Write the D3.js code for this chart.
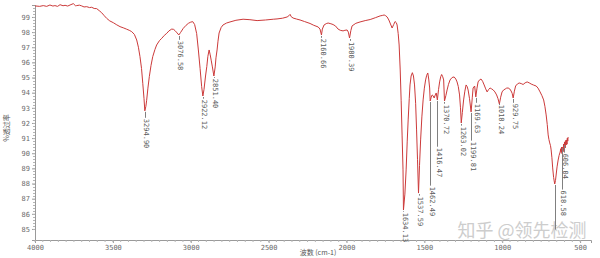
<!DOCTYPE html>
<html>
<head>
<meta charset="utf-8">
<script src="https://cdn.jsdelivr.net/npm/d3@7"></script>
<style>
  body { margin: 0; background: #fff; }
  svg { display: block; }
</style>
</head>
<body>
<script>
// IR spectrum (wavenumber cm-1 / transmittance %)
var wavenumber = [
  4000, 3970, 3947, 3925, 3904, 3885, 3872, 3855, 3839, 3820, 3807, 3790, 3775, 3754, 3740, 3732, 3715, 3700,
  3685, 3668, 3650, 3636, 3620, 3604, 3588, 3572, 3555, 3540, 3520, 3497, 3475, 3454, 3430, 3411, 3395, 3379,
  3362, 3347, 3336, 3326, 3316, 3308, 3300, 3294.9, 3288, 3283, 3275, 3266, 3255, 3244, 3230, 3219, 3200, 3186,
  3170, 3154, 3140, 3122, 3110, 3101, 3088, 3076.58, 3065, 3048, 3030, 3015, 3000, 2987, 2975, 2962, 2951, 2940,
  2930, 2922.12, 2915, 2905, 2897, 2890, 2882, 2875, 2868, 2861, 2851.4, 2843, 2838, 2831, 2825, 2818, 2805, 2793,
  2770, 2748, 2710, 2664, 2620, 2574, 2520, 2470, 2446, 2410, 2381, 2370, 2362, 2355, 2343, 2320, 2298, 2270,
  2234, 2210, 2182, 2170, 2160.66, 2155, 2144, 2130, 2118, 2100, 2086, 2070, 2054, 2040, 2022, 2010, 1996, 1988,
  1980.39, 1972, 1964, 1940, 1913, 1880, 1848, 1815, 1784, 1770, 1758, 1748, 1739, 1728, 1720, 1707, 1697, 1688,
  1680, 1675, 1668, 1662, 1655, 1649, 1643, 1637, 1634.13, 1625, 1617, 1610, 1604, 1597, 1592, 1585, 1577, 1570,
  1563, 1556, 1550, 1544, 1537.59, 1531, 1524, 1516, 1508, 1500, 1492, 1485, 1478, 1472, 1466, 1462.49, 1456, 1450,
  1444, 1437, 1430, 1424, 1416.47, 1409, 1402, 1395, 1389, 1382, 1376, 1370.72, 1362, 1354, 1345, 1335, 1322, 1309,
  1298, 1290, 1282, 1274, 1268, 1263.02, 1256, 1248, 1240, 1232, 1225, 1219, 1210, 1199.81, 1192, 1187, 1177, 1169.63,
  1162, 1155, 1145, 1136, 1126, 1116, 1106, 1097, 1088, 1078, 1068, 1058, 1047, 1036, 1027, 1018.24, 1010, 1001,
  991, 981, 972, 962, 952, 943, 936, 929.75, 922, 914, 902, 891, 878, 866, 853, 840, 827, 814, 798, 782, 770, 757,
  745, 734, 726, 718, 711, 705, 700, 695, 690, 686, 681, 676, 670, 663, 658, 654, 648, 641, 635, 628, 624, 621,
  618.58, 615, 612, 609, 606.04, 603, 600, 596, 592, 589, 587, 584, 582, 579, 577
];
var transmittance = [
  99.73, 99.70, 99.75, 99.70, 99.79, 99.72, 99.75, 99.70, 99.81, 99.74, 99.77, 99.72, 99.79, 99.88, 99.74, 99.75, 99.78, 99.73,
  99.66, 99.68, 99.62, 99.64, 99.56, 99.55, 99.42, 99.28, 99.08, 98.91, 98.74, 98.62, 98.48, 98.36, 98.27, 98.19, 98.12, 98.03,
  97.85, 97.48, 97.00, 96.38, 95.60, 94.62, 93.60, 92.80, 93.10, 93.50, 94.30, 95.06, 95.80, 96.38, 96.85, 97.15, 97.45, 97.59,
  97.78, 97.92, 98.08, 98.20, 98.18, 98.10, 97.95, 97.81, 97.98, 98.25, 98.45, 98.58, 98.66, 98.69, 98.50, 97.90, 96.82, 95.60,
  94.40, 93.78, 94.20, 95.10, 95.72, 96.40, 96.82, 96.50, 96.10, 95.70, 95.10, 95.70, 96.30, 96.82, 97.40, 97.94, 98.30, 98.47,
  98.60, 98.67, 98.78, 98.85, 98.82, 98.76, 98.80, 98.85, 98.87, 98.92, 99.00, 99.08, 99.17, 99.02, 98.93, 98.86, 98.80, 98.70,
  98.57, 98.45, 98.34, 98.20, 97.81, 98.20, 98.47, 98.56, 98.60, 98.55, 98.50, 98.40, 98.20, 98.12, 98.08, 98.12, 98.14, 98.00,
  97.61, 98.10, 98.41, 98.58, 98.67, 98.76, 98.83, 98.95, 99.07, 99.10, 99.13, 99.08, 99.00, 98.80, 98.60, 98.27, 98.50, 98.70,
  98.62, 98.47, 97.90, 97.15, 95.50, 93.50, 91.20, 88.90, 86.25, 87.30, 88.90, 90.80, 92.20, 93.60, 94.51, 95.10, 95.32, 95.10,
  94.51, 93.30, 91.54, 89.60, 87.37, 89.20, 90.88, 92.40, 93.52, 94.30, 94.84, 95.15, 95.30, 94.90, 94.31, 93.45, 93.70, 93.85,
  93.80, 93.65, 93.85, 93.98, 93.52, 94.20, 94.71, 95.05, 95.20, 95.05, 94.84, 93.45, 93.80, 94.18, 94.55, 94.84, 95.00, 95.04,
  94.90, 94.71, 94.40, 93.85, 93.00, 92.00, 92.70, 93.52, 94.10, 94.51, 94.40, 94.18, 93.60, 92.73, 93.70, 94.31, 94.44, 93.72,
  94.30, 94.71, 94.85, 94.90, 94.75, 94.51, 94.25, 94.05, 94.20, 94.31, 94.25, 94.18, 94.05, 93.85, 93.60, 93.25, 93.70, 94.05,
  94.18, 94.24, 94.30, 94.31, 94.25, 94.11, 93.95, 93.65, 94.10, 94.44, 94.58, 94.64, 94.60, 94.54, 94.65, 94.71, 94.65, 94.57, 94.50, 94.44, 94.30, 94.05,
  93.80, 93.52, 93.10, 92.53, 91.90, 91.21, 90.90, 90.68, 90.50, 90.22, 89.70, 89.03, 88.40, 87.97, 88.20, 88.56, 89.10, 89.55, 89.85, 90.08, 90.30, 90.05,
  90.41, 89.95, 90.40, 90.10, 90.61, 90.20, 90.75, 90.35, 90.85, 90.55, 90.88, 90.60, 91.00, 90.80, 91.07
];

// marked peaks: label, position, and where the label text starts (in %T)
var peakNames = ["3294.90", "3076.58", "2922.12", "2851.40", "2160.66", "1980.39", "1634.13", "1537.59", "1462.49",
  "1416.47", "1370.72", "1263.02", "1199.81", "1169.63", "1018.24", "929.75", "618.58", "606.04", ""];
var peakWn = [3294.9, 3076.58, 2922.12, 2851.4, 2160.66, 1980.39, 1634.13, 1537.59, 1462.49,
  1416.47, 1370.72, 1263.02, 1199.81, 1169.63, 1018.24, 929.75, 618.58, 606.04, 663];
var peakTextT = [92.34, 97.49, 93.6, 94.98, 97.62, 97.42, 86.14, 87.2, 87.86,
  90.43, 93.27, 91.82, 90.83, 93.33, 93.27, 93.33, 87.6, 90.04, 84.96];

var xTicks = [4000, 3500, 3000, 2500, 2000, 1500, 1000, 500];
var yTicks = [85, 86, 87, 88, 89, 90, 91, 92, 93, 94, 95, 96, 97, 98, 99];

var width = 600, height = 258;
var numFont = '"DejaVu Sans Mono", monospace';
var cjkFont = '"Noto Sans CJK SC", sans-serif';

var x = d3.scaleLinear().domain([4000, 430]).range([35, 591]);
var y = d3.scaleLinear().domain([84.27, 99.79]).range([240, 5]);

var svg = d3.select("body").append("svg")
    .attr("width", width)
    .attr("height", height);

// axes
var xAxis = svg.append("g")
    .attr("transform", "translate(0,240)")
    .call(d3.axisBottom(x).tickValues(xTicks).tickFormat(d3.format("d"))
        .tickSizeOuter(0).tickSize(3).tickPadding(2));
var yAxis = svg.append("g")
    .attr("transform", "translate(35,0)")
    .call(d3.axisLeft(y).tickValues(yTicks).tickSizeOuter(0).tickSize(3).tickPadding(2));

[xAxis, yAxis].forEach(function(g) {
    g.select(".domain").attr("stroke", "#9a9a9a");
    g.selectAll(".tick line").attr("stroke", "#9a9a9a");
    g.selectAll(".tick text")
        .attr("fill", "#6a6a6a")
        .style("font-family", numFont)
        .style("font-size", "7px");
});

// minor ticks
svg.append("g").selectAll("line")
    .data(d3.range(500, 4001, 50))
    .enter().append("line")
    .attr("x1", function(d) { return x(d); })
    .attr("x2", function(d) { return x(d); })
    .attr("y1", 240).attr("y2", 242)
    .attr("stroke", "#b5b5b5");
svg.append("g").selectAll("line")
    .data(d3.range(85, 99.61, 0.2))
    .enter().append("line")
    .attr("x1", 33).attr("x2", 35)
    .attr("y1", function(d) { return Math.round(y(d)) + 0.5; })
    .attr("y2", function(d) { return Math.round(y(d)) + 0.5; })
    .attr("stroke", "#b5b5b5");

// axis titles
svg.append("text")
    .attr("transform", "translate(9,128) rotate(-90)")
    .attr("text-anchor", "middle")
    .attr("fill", "#555")
    .style("font-family", cjkFont)
    .style("font-size", "7px")
    .text("%透过率");
svg.append("text")
    .attr("x", 318).attr("y", 255)
    .attr("text-anchor", "middle")
    .attr("fill", "#555")
    .style("font-family", cjkFont)
    .style("font-size", "7px")
    .text("波数 (cm-1)");

// watermark
svg.append("text")
    .attr("x", 522).attr("y", 237)
    .attr("text-anchor", "middle")
    .attr("fill", "#cdcdcd")
    .style("font-family", cjkFont)
    .style("font-size", "18px")
    .text("知乎 @领先检测");

// spectrum
var points = wavenumber.map(function(w, i) { return [w, transmittance[i]]; });
var line = d3.line()
    .x(function(d) { return x(d[0]); })
    .y(function(d) { return y(d[1]); });
svg.append("path")
    .datum(points)
    .attr("fill", "none")
    .attr("stroke", "#cc3a3a")
    .attr("stroke-width", 1)
    .attr("d", line);

// value of the curve at a wavenumber
function curveAt(w) {
    for (var i = 1; i < wavenumber.length; i++) {
        if (wavenumber[i] <= w) {
            var t = (wavenumber[i - 1] - w) / (wavenumber[i - 1] - wavenumber[i]);
            return transmittance[i - 1] + t * (transmittance[i] - transmittance[i - 1]);
        }
    }
    return transmittance[transmittance.length - 1];
}

var peaks = peakNames.map(function(name, i) {
    return { name: name, wn: peakWn[i], top: curveAt(peakWn[i]), text: peakTextT[i] };
});

var marks = svg.append("g");
marks.selectAll("line")
    .data(peaks)
    .enter().append("line")
    .attr("x1", function(d) { return Math.round(x(d.wn)) + 0.5; })
    .attr("x2", function(d) { return Math.round(x(d.wn)) + 0.5; })
    .attr("y1", function(d) { return y(d.top) + 1; })
    .attr("y2", function(d) { return y(d.text); })
    .attr("stroke", "#808080")
    .attr("stroke-width", 1);

marks.selectAll("text")
    .data(peaks)
    .enter().append("text")
    .attr("transform", function(d) {
        return "translate(" + (x(d.wn) - 0.5) + "," + (y(d.text) + 1) + ") rotate(90)";
    })
    .attr("fill", "#5a5a5a")
    .style("font-family", numFont)
    .style("font-size", "7px")
    .text(function(d) { return d.name; });
</script>
</body>
</html>
